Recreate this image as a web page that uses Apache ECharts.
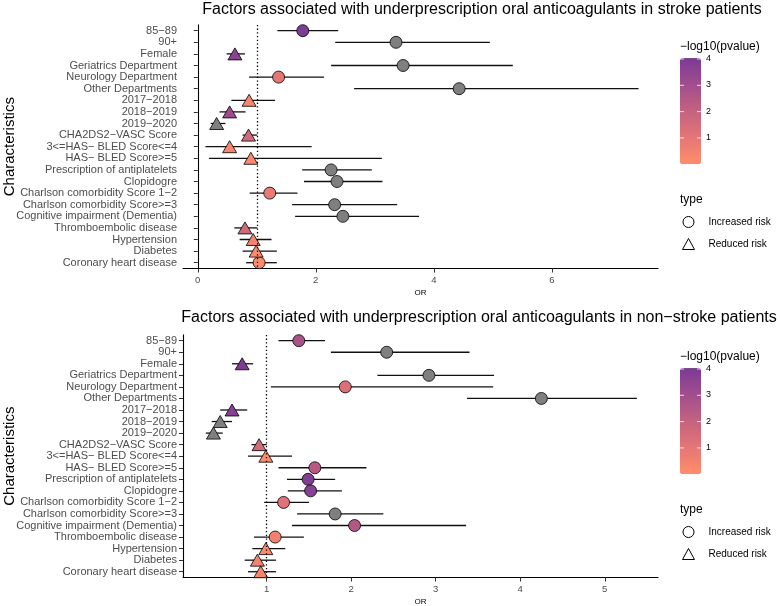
<!DOCTYPE html>
<html>
<head>
<meta charset="utf-8">
<script src="https://cdn.jsdelivr.net/npm/echarts@6/dist/echarts.min.js"></script>
<style>
  html, body { margin: 0; padding: 0; background: #fff; }
  #chart { width: 780px; height: 606px; }
</style>
</head>
<body>
<div id="chart"></div>
<script>
const categories = [
  "85−89", "90+", "Female", "Geriatrics Department", "Neurology Department",
  "Other Departments", "2017−2018", "2018−2019", "2019−2020", "CHA2DS2−VASC Score",
  "3<=HAS− BLED Score<=4", "HAS− BLED Score>=5", "Prescription of antiplatelets",
  "Clopidogre", "Charlson comorbidity Score 1−2", "Charlson comorbidity Score>=3",
  "Cognitive impairment (Dementia)", "Thromboembolic disease", "Hypertension",
  "Diabetes", "Coronary heart disease"
];

// stroke patients
const strokeOR   = [1.78, 3.36, 0.63, 3.48, 1.37, 4.43, 0.87, 0.54, 0.32, 0.86, 0.54, 0.90, 2.26, 2.36, 1.22, 2.32, 2.46, 0.80, 0.94, 0.99, 1.04];
const strokeLow  = [1.35, 2.33, 0.49, 2.26, 0.87, 2.65, 0.57, 0.37, 0.22, 0.76, 0.13, 0.19, 1.77, 1.80, 0.88, 1.60, 1.65, 0.62, 0.71, 0.76, 0.82];
const strokeHigh = [2.38, 4.95, 0.80, 5.34, 2.14, 7.47, 1.31, 0.81, 0.47, 1.01, 1.93, 3.12, 2.95, 3.13, 1.69, 3.38, 3.75, 1.01, 1.25, 1.34, 1.34];
// -log10(pvalue); values above 4 fall outside the colour scale and are drawn grey
const strokeLogP = [3.9, 5, 3.6, 5, 1.0, 5, 0.3, 3.1, 5, 1.6, 0.3, 0.2, 5, 5, 0.8, 5, 5, 1.6, 0.4, 0.1, 0.1];
const strokeType = ["I","I","R","I","I","I","R","R","R","R","R","R","I","I","I","I","I","R","R","R","I"];

// non-stroke patients
const nonOR   = [1.38, 2.42, 0.71, 2.92, 1.93, 4.25, 0.59, 0.45, 0.37, 0.91, 0.99, 1.57, 1.49, 1.52, 1.20, 1.81, 2.04, 1.10, 0.99, 0.89, 0.93];
const nonLow  = [1.14, 1.76, 0.59, 2.31, 1.05, 3.37, 0.45, 0.35, 0.28, 0.82, 0.78, 1.14, 1.24, 1.25, 0.97, 1.36, 1.30, 0.85, 0.83, 0.74, 0.78];
const nonHigh = [1.69, 3.40, 0.84, 3.69, 3.68, 5.38, 0.77, 0.59, 0.48, 1.00, 1.30, 2.18, 1.81, 1.89, 1.50, 2.38, 3.36, 1.44, 1.22, 1.11, 1.11];
const nonLogP = [2.8, 5, 3.9, 5, 1.3, 5, 3.7, 5, 5, 1.6, 0.05, 2.4, 3.8, 3.7, 1.2, 5, 2.5, 0.5, 0.1, 0.4, 0.3];
const nonType = ["I","I","R","I","I","I","R","R","R","R","R","I","I","I","I","I","I","I","R","R","R"];

const strokeTicks = [0, 2, 4, 6];
const nonTicks = [1, 2, 3, 4, 5];
const colorTicks = [4, 3, 2, 1];

const font = "Liberation Sans, Arial, Helvetica, sans-serif";
const scaleColors = ["#FF8D6A", "#E57676", "#C4627F", "#A14E8C", "#7B3A96"];

function bars(low, high) {
  return low.map((v, i) => [v, high[i], categories[i]]);
}
function points(or, logp, type, t) {
  const out = [];
  or.forEach((v, i) => { if (type[i] === t) out.push([v, categories[i], logp[i]]); });
  return out;
}
function renderBar(params, api) {
  const y = api.value(2);
  const a = api.coord([api.value(0), y]);
  const b = api.coord([api.value(1), y]);
  return {
    type: "line",
    shape: { x1: a[0], y1: a[1], x2: b[0], y2: b[1] },
    style: { stroke: "#111", lineWidth: 1.3 }
  };
}

function xAxis(grid, min, max, ticks) {
  return {
    type: "value", gridIndex: grid, min: min, max: max,
    splitLine: { show: false },
    axisLine: { show: true, lineStyle: { color: "#000", width: 1.1 } },
    axisTick: { show: true, length: 4, customValues: ticks, lineStyle: { color: "#333" } },
    axisLabel: { customValues: ticks, color: "#4D4D4D", fontSize: 9.5, fontFamily: font, margin: 7 },
    name: "OR", nameLocation: "middle", nameGap: 20,
    nameTextStyle: { color: "#000", fontSize: 8, fontFamily: font }
  };
}
function yAxis(grid) {
  return {
    type: "category", gridIndex: grid, data: categories, inverse: true,
    axisLine: { show: true, lineStyle: { color: "#000", width: 1.1 } },
    axisTick: { show: true, alignWithLabel: true, length: 4, lineStyle: { color: "#333" } },
    axisLabel: { interval: 0, color: "#4D4D4D", fontSize: 11, fontFamily: font, margin: 6 },
    splitLine: { show: false },
    name: "Characteristics", nameLocation: "middle", nameRotate: 90, nameGap: 166,
    nameMoveOverlap: false,
    nameTextStyle: { color: "#000", fontSize: 15, fontFamily: font }
  };
}
function pointSeries(grid, name, data, symbol, size) {
  return {
    type: "scatter", name: name, xAxisIndex: grid, yAxisIndex: grid,
    data: data, symbol: symbol, symbolSize: size,
    itemStyle: { borderColor: "#000", borderWidth: 0.8, opacity: 1 },
    z: 3
  };
}
function vmap(series, top) {
  return {
    type: "continuous", min: 0, max: 4.01, range: [0, 4], dimension: 2, seriesIndex: series,
    calculable: false, left: 665, top: top - 15, itemWidth: 21, itemHeight: 106,
    inRange: { color: scaleColors }, outOfRange: { color: "#7F7F7F" },
    hoverLink: false
  };
}
function shapeLegend(top) {
  return {
    orient: "vertical", left: 677, top: top, itemWidth: 12, itemHeight: 11, itemGap: 10,
    textStyle: { fontSize: 10, color: "#000", fontFamily: font, padding: [0, 0, 0, 9] },
    selectedMode: false,
    data: [
      { name: "Increased risk", icon: "circle", itemStyle: { color: "#fff", borderColor: "#000", borderWidth: 1 } },
      { name: "Reduced risk", icon: "triangle", itemStyle: { color: "#fff", borderColor: "#000", borderWidth: 1 } }
    ]
  };
}
function legendText(top) {
  const g = [{
    type: "text", left: 680, top: top - 17,
    style: { text: "−log10(pvalue)", fontSize: 12, fill: "#000", fontFamily: font }
  }, {
    type: "text", left: 680, top: top + 136,
    style: { text: "type", fontSize: 12, fill: "#000", fontFamily: font }
  }];
  colorTicks.forEach((t, i) => {
    const y = top + 1 + i * 26.3;
    g.push({
      type: "text", left: 706, top: y - 5,
      style: { text: String(t), fontSize: 9, fill: "#000", fontFamily: font }
    });
    g.push({ type: "rect", left: 680, top: y - 0.5, shape: { width: 4, height: 1 }, style: { fill: "rgba(255,255,255,0.8)" }, z: 100 });
    g.push({ type: "rect", left: 697, top: y - 0.5, shape: { width: 4, height: 1 }, style: { fill: "rgba(255,255,255,0.8)" }, z: 100 });
  });
  return g;
}

const dotted = {
  silent: true, symbol: "none", label: { show: false },
  lineStyle: { color: "#000", type: [1.3, 2.4], width: 1.3 },
  data: [{ xAxis: 1 }], z: 10
};

const titleStyle = { fontSize: 16, fontWeight: "normal", color: "#000", fontFamily: font };

const option = {
  backgroundColor: "#fff",
  animation: false,
  title: [
    { text: "Factors associated with underprescription oral anticoagulants in stroke patients",
      left: 482, top: 2, padding: 0, textAlign: "center", textStyle: titleStyle },
    { text: "Factors associated with underprescription oral anticoagulants in non−stroke patients",
      left: 479, top: 310, padding: 0, textAlign: "center", textStyle: titleStyle }
  ],
  grid: [
    { left: 183, right: 122, top: 24.9, height: 243.6, outerBoundsMode: "none" },
    { left: 183, right: 122, top: 334.9, height: 242.6, outerBoundsMode: "none" }
  ],
  xAxis: [xAxis(0, -0.25, 7.8, strokeTicks), xAxis(1, 0.01, 5.63, nonTicks)],
  yAxis: [yAxis(0), yAxis(1)],
  visualMap: [vmap([1, 2], 58), vmap([4, 5], 368)],
  legend: [shapeLegend(211), shapeLegend(521)],
  graphic: legendText(58).concat(legendText(368)),
  series: [
    { type: "custom", xAxisIndex: 0, yAxisIndex: 0, renderItem: renderBar,
      data: bars(strokeLow, strokeHigh), encode: { x: [0, 1], y: 2 }, z: 2 },
    Object.assign(pointSeries(0, "Increased risk", points(strokeOR, strokeLogP, strokeType, "I"), "circle", 12), { markLine: dotted }),
    pointSeries(0, "Reduced risk", points(strokeOR, strokeLogP, strokeType, "R"), "triangle", [14, 12]),
    { type: "custom", xAxisIndex: 1, yAxisIndex: 1, renderItem: renderBar,
      data: bars(nonLow, nonHigh), encode: { x: [0, 1], y: 2 }, z: 2 },
    Object.assign(pointSeries(1, "Increased risk", points(nonOR, nonLogP, nonType, "I"), "circle", 12), { markLine: dotted }),
    pointSeries(1, "Reduced risk", points(nonOR, nonLogP, nonType, "R"), "triangle", [14, 12])
  ]
};

const myChart = echarts.init(document.getElementById("chart"));
myChart.setOption(option);
</script>
</body>
</html>
